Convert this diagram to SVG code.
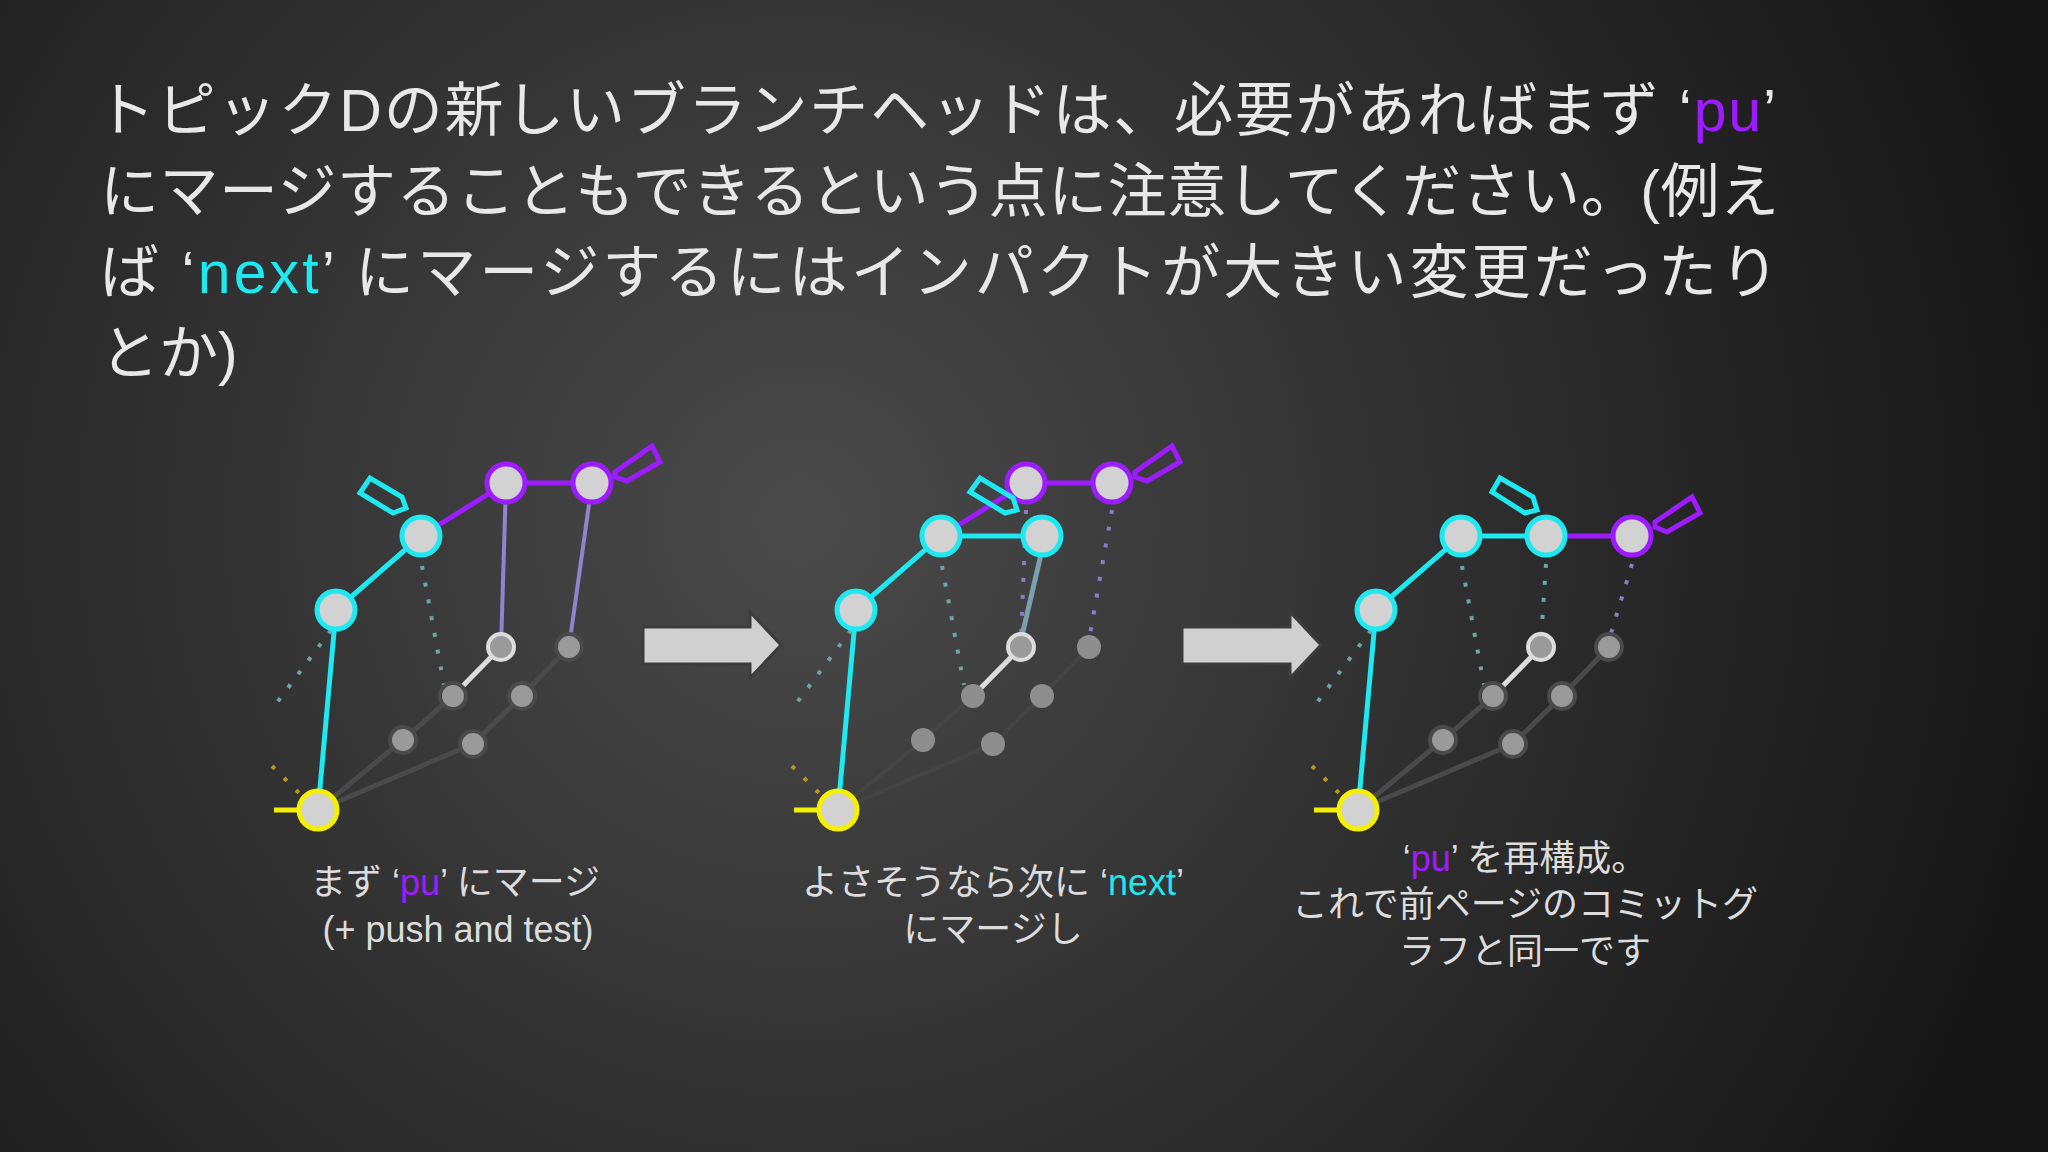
<svg xmlns="http://www.w3.org/2000/svg" width="2048" height="1152" viewBox="0 0 2048 1152">
<defs>
<radialGradient id="bg" cx="800" cy="520" r="1300" gradientUnits="userSpaceOnUse">
<stop offset="0" stop-color="#4a4a4a"/><stop offset="0.6" stop-color="#2a2a2a"/><stop offset="1" stop-color="#151515"/>
</radialGradient>
<style>
.t{font-family:"Liberation Sans","Noto Sans CJK JP",sans-serif;fill:#e8e8e8}
.cap{font-family:"Liberation Sans","Noto Sans CJK JP",sans-serif;fill:#dcdcdc;font-size:36px;text-anchor:middle}
.pu{fill:#9d1cff}.nx{fill:#1ee8f0}
.cy{stroke:#1ee8f0;stroke-width:5;fill:none}
.pp{stroke:#9d1cff;stroke-width:5;fill:none}
.dk{stroke:#4a4a4a;stroke-width:5;fill:none}
.lt{stroke:#dcdcdc;stroke-width:5;fill:none}
.lav{stroke:#9183cc;stroke-width:4;fill:none}
.dc{stroke:#6aa6a6;stroke-width:4;stroke-dasharray:4 13;fill:none}
.dp{stroke:#8a7ccc;stroke-width:4;stroke-dasharray:4 13;fill:none}
.dy{stroke:#b8961e;stroke-width:4;stroke-dasharray:4 13;fill:none}
.nc{fill:#d2d2d2;stroke:#1ee8f0;stroke-width:5}
.np{fill:#d2d2d2;stroke:#9d1cff;stroke-width:5}
.ny{fill:#d2d2d2;stroke:#f5f000;stroke-width:5}
.g{fill:#9a9a9a;stroke:#4a4a4a;stroke-width:4}
.gl{fill:#9a9a9a;stroke:#dcdcdc;stroke-width:4}
.gf{fill:#8e8e8e;stroke:none}
.tc{fill:none;stroke:#1ee8f0;stroke-width:5;stroke-linejoin:miter}
.tp{fill:none;stroke:#9d1cff;stroke-width:5}
.arr{fill:#d0d0d0;stroke:#3c3c3c;stroke-width:3}
</style>
</defs>
<rect width="2048" height="1152" fill="url(#bg)"/>
<g id="title" class="t" font-size="59">
<text x="96" y="131" textLength="1680" lengthAdjust="spacing">トピックDの新しいブランチヘッドは、必要があればまず ‘<tspan class="pu">pu</tspan>’</text>
<text x="100" y="212" textLength="1679" lengthAdjust="spacing">にマージすることもできるという点に注意してください。(例え</text>
<text x="100" y="293" textLength="1679" lengthAdjust="spacing">ば ‘<tspan class="nx">next</tspan>’ にマージするにはインパクトが大きい変更だったり</text>
<text x="100" y="374">とか)</text>
</g>
<g id="connectors">
<g id="edges1">
<path class="dy" d="M272 766L306 800"/>
<path class="dc" d="M331 630L273 708"/>
<path class="dc" d="M422 566L444 685"/>
<path class="dk" d="M318 810L403 740L453 696M318 810L473 744L522 696L569 647"/>
<path class="lt" d="M453 696L501 647"/>
<path class="lav" d="M506 483L501 647M592 483L569 647"/>
<path class="cy" d="M318 810L336 610L421 536"/>
<path class="pp" d="M421 536L506 483L592 483"/>
<path d="M274 810H300" stroke="#f5f000" stroke-width="5"/>
</g>
<g id="edges2" transform="translate(520 0)">
<path class="dy" d="M272 766L306 800"/>
<path class="dc" d="M331 630L273 708"/>
<path class="dc" d="M422 566L444 685"/>
<path d="M318 810L403 740L453 696M318 810L473 744L522 696L569 647" stroke="#4a4a4a" stroke-opacity="0.6" stroke-width="4" fill="none"/>
<path class="lt" d="M453 696L501 647"/>
<path class="dp" d="M506 510L501 640M592 510L569 640"/>
<path d="M522 550L501 640" stroke="#7aa0b0" stroke-width="5"/>
<path class="cy" d="M318 810L336 610L421 536L522 536"/>
<path class="pp" d="M421 536L506 483L592 483"/>
<path d="M274 810H300" stroke="#f5f000" stroke-width="5"/>
</g>
<g id="edges3" transform="translate(1040 0)">
<path class="dy" d="M272 766L306 800"/>
<path class="dc" d="M331 630L273 708"/>
<path class="dc" d="M422 566L444 685"/>
<path class="dc" d="M506 564L501 640"/>
<path class="dp" d="M592 564L569 640"/>
<path class="dk" d="M318 810L403 740L453 696M318 810L473 744L522 696L569 647"/>
<path class="lt" d="M453 696L501 647"/>
<path class="cy" d="M318 810L336 610L421 536L506 536"/>
<path class="pp" d="M506 536L592 536"/>
<path d="M274 810H300" stroke="#f5f000" stroke-width="5"/>
</g>
<path id="arrow1" class="arr" d="M643 627H750V612L781 645L750 678V664H643Z"/>
<path id="arrow2" class="arr" d="M1182 627H1290V612L1321 645L1290 678V664H1182Z"/>
</g>
<g id="graph1">
<circle class="g" cx="403" cy="740" r="13"/><circle class="g" cx="473" cy="744" r="13"/>
<circle class="g" cx="453" cy="696" r="13"/><circle class="g" cx="522" cy="696" r="13"/>
<circle class="gl" cx="501" cy="647" r="13"/><circle class="g" cx="569" cy="647" r="13"/>
<circle class="ny" cx="318" cy="810" r="19"/>
<circle class="nc" cx="336" cy="610" r="19"/><circle class="nc" cx="421" cy="536" r="19"/>
<circle class="np" cx="506" cy="483" r="19"/><circle class="np" cx="592" cy="483" r="19"/>
<polygon class="tc" points="360,493 370,478 402,497 406,508 393,513"/>
<polygon class="tp" points="615,472 652,446 660,462 627,481 615,477"/>
</g>
<g id="graph2" transform="translate(520 0)">
<circle class="gf" cx="403" cy="740" r="12"/><circle class="gf" cx="473" cy="744" r="12"/>
<circle class="gf" cx="453" cy="696" r="12"/><circle class="gf" cx="522" cy="696" r="12"/>
<circle class="gl" cx="501" cy="647" r="13"/><circle class="gf" cx="569" cy="647" r="12"/>
<circle class="ny" cx="318" cy="810" r="19"/>
<circle class="nc" cx="336" cy="610" r="19"/><circle class="nc" cx="421" cy="536" r="19"/>
<circle class="np" cx="506" cy="483" r="19"/><circle class="np" cx="592" cy="483" r="19"/>
<circle class="nc" cx="522" cy="536" r="19"/>
<polygon class="tc" points="450,492 460,478 493,498 497,510 485,513"/>
<polygon class="tp" points="615,472 652,446 660,462 627,481 615,477"/>
</g>
<g id="graph3" transform="translate(1040 0)">
<circle class="g" cx="403" cy="740" r="13"/><circle class="g" cx="473" cy="744" r="13"/>
<circle class="g" cx="453" cy="696" r="13"/><circle class="g" cx="522" cy="696" r="13"/>
<circle class="gl" cx="501" cy="647" r="13"/><circle class="g" cx="569" cy="647" r="13"/>
<circle class="ny" cx="318" cy="810" r="19"/>
<circle class="nc" cx="336" cy="610" r="19"/><circle class="nc" cx="421" cy="536" r="19"/>
<circle class="nc" cx="506" cy="536" r="19"/><circle class="np" cx="592" cy="536" r="19"/>
<polygon class="tc" points="452,492 460,478 493,497 497,510 485,513"/>
<polygon class="tp" points="615,522 652,497 660,513 627,532 615,527"/>
</g>
<g id="captions">
<text class="cap" x="455" y="895">まず ‘<tspan class="pu">pu</tspan>’ にマージ</text>
<text class="cap" x="458" y="942">(+ push and test)</text>
<text class="cap" x="993" y="895">よさそうなら次に ‘<tspan class="nx">next</tspan>’</text>
<text class="cap" x="993" y="942">にマージし</text>
<text class="cap" x="1525" y="871">‘<tspan class="pu">pu</tspan>’ を再構成。</text>
<text class="cap" x="1525" y="917">これで前ページのコミットグ</text>
<text class="cap" x="1525" y="964">ラフと同一です</text>
</g>
</svg>
